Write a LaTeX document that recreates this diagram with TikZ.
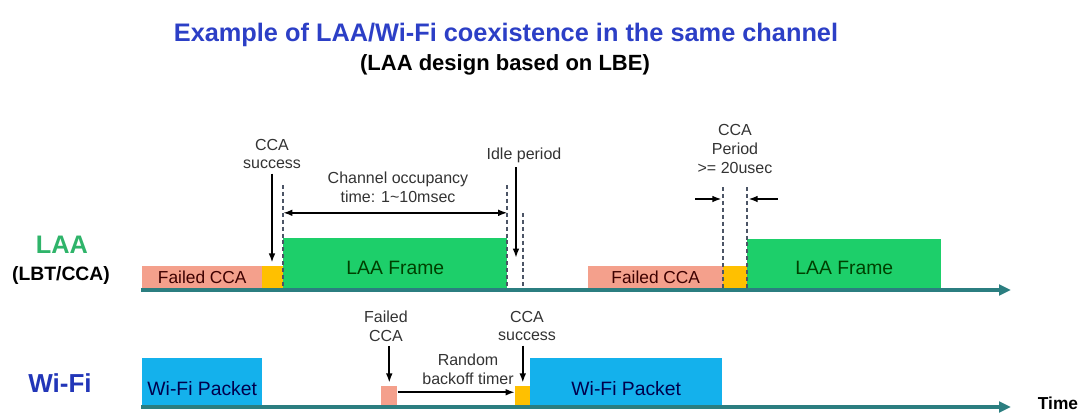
\documentclass[tikz,border=0pt]{standalone}
\usepackage{fontspec}
\setmainfont{Liberation Sans}
\usetikzlibrary{arrows.meta}
\definecolor{salmon}{HTML}{F4A08C}
\definecolor{amber}{HTML}{FFC000}
\definecolor{frameg}{HTML}{1DCF6A}
\definecolor{pktblue}{HTML}{14B1EC}
\definecolor{axisteal}{HTML}{2B7E80}
\definecolor{titleblue}{HTML}{2C3FC6}
\definecolor{laagreen}{HTML}{2FB46A}
\definecolor{wifiblue}{HTML}{2236B8}
\definecolor{guidegray}{HTML}{4C5566}

\tikzset{
  slot/.style={inner sep=0pt, anchor=south west},
  note/.style={align=center, font=\fontsize{12}{14}\selectfont, text=black!80},
  ptr/.style={-{Latex[length=7pt,width=5pt]}, line width=1.5pt},
  guide/.style={guidegray, line width=0.9pt, dash pattern=on 3pt off 2.2pt},
  tline/.style={axisteal, line width=2.4pt, -{Triangle[length=9pt,width=8pt]}},
}

\begin{document}
\begin{tikzpicture}[x=0.75pt, y=-0.75pt]
    \useasboundingbox (0,0) rectangle (1081,415);

    % Title
    \node[anchor=base, font=\bfseries\fontsize{19}{22}\selectfont, text=titleblue] (title) at (506,41) {Example of LAA/Wi-Fi coexistence in the same channel};
    \node[anchor=base, font=\bfseries\fontsize{16.5}{20}\selectfont] (subtitle) at (505,70) {(LAA design based on LBE)};

    % LAA
    \node[font=\bfseries\fontsize{19}{22}\selectfont, text=laagreen] (laa) at (62,245) {LAA};
    \node[font=\bfseries\fontsize{14.5}{17}\selectfont] (lbt) at (61,275) {(LBT/CCA)};

    \node[slot, fill=salmon, minimum width=90pt, minimum height=18pt] (fail1) at (142,290) {};
    \node[slot, fill=amber, minimum width=15.75pt, minimum height=18pt] (cca1) at (262,290) {};
    \node[slot, fill=frameg, minimum width=168pt, minimum height=39pt] (frame1) at (283,290) {};
    \node[slot, fill=salmon, minimum width=101.25pt, minimum height=18pt] (fail2) at (588,290) {};
    \node[slot, fill=amber, minimum width=18pt, minimum height=18pt] (cca2) at (723,290) {};
    \node[slot, fill=frameg, minimum width=145.5pt, minimum height=38.25pt] (frame2) at (747,290) {};

    \node[font=\fontsize{13}{15}\selectfont, text=black!60!red!60!black] (fail1txt) at (fail1.center) {Failed CCA};
    \node[font=\fontsize{13}{15}\selectfont, text=black!60!red!60!black] (fail2txt) at (fail2.center) {Failed CCA};
    \node[font=\fontsize{14.5}{17}\selectfont, text=black!75!green] (frame1txt) at ([yshift=-3pt]frame1.center) {LAA Frame};
    \node[font=\fontsize{14.5}{17}\selectfont, text=black!75!green] (frame2txt) at ([yshift=-3pt]frame2.center) {LAA Frame};

    % CCA success and channel occupancy
    \node[note] (laaok) at (272,154) {CCA\\success};
    \draw[ptr] (laaok.south) -- ([yshift=2pt]laaok.south |- cca1.north);

    \coordinate (occl) at (283,185);
    \coordinate (occr) at (507,185);
    \draw[guide] (occl) -- (occl |- frame1.south);
    \draw[guide] (occr) -- (occr |- frame1.south);
    \draw[{Latex[length=7pt,width=5pt]}-{Latex[length=7pt,width=5pt]}, line width=1.5pt]
        ([yshift=18.5pt]frame1.north west) -- ([yshift=18.5pt]frame1.north east);
    \node[note] (occ) at (398,187) {Channel occupancy\\time: 1\textasciitilde10msec};

    % idle period
    \node[note] (idle) at (524,155) {Idle period};
    \coordinate (idletip) at (516,258);
    \draw[ptr] (idle.south -| idletip) -- (idletip);
    \coordinate (idlel) at (523,213);
    \draw[guide] (idlel) -- (idlel |- frame1.south);

    % CCA period
    \node[note] (ccap) at (735,149) {CCA\\Period\\>= 20usec};
    \coordinate (cpl) at (723,187);
    \coordinate (cpr) at (747,187);
    \draw[guide] (cpl) -- (cpl |- cca2.south);
    \draw[guide] (cpr) -- (cpr |- cca2.south);
    \draw[ptr] ([xshift=-21pt,yshift=-9pt]cpl) -- ([xshift=-1pt,yshift=-9pt]cpl);
    \draw[ptr] ([xshift=23pt,yshift=-9pt]cpr) -- ([xshift=1pt,yshift=-9pt]cpr);

    \coordinate (laa0) at (141,290);
    \coordinate (laa1) at (1011,290);
    \draw[tline] (laa0) -- (laa1);

    % Wi-Fi
    \node[font=\bfseries\fontsize{19.5}{22}\selectfont, text=wifiblue] (wifi) at (60,383) {Wi-Fi};

    \node[slot, fill=pktblue, minimum width=90pt, minimum height=36.75pt] (wpk1) at (142,407) {};
    \node[slot, fill=salmon, minimum width=12pt, minimum height=15.75pt] (wfail) at (381,407) {};
    \node[slot, fill=amber, minimum width=11.25pt, minimum height=15.75pt] (wok) at (515,407) {};
    \node[slot, fill=pktblue, minimum width=144pt, minimum height=36.75pt] (wpk2) at (530,407) {};

    \node[font=\fontsize{14.5}{17}\selectfont, text=black!70!blue] (wpk1txt) at ([yshift=-4.5pt]wpk1.center) {Wi-Fi Packet};
    \node[font=\fontsize{14.5}{17}\selectfont, text=black!70!blue] (wpk2txt) at ([yshift=-4.5pt]wpk2.center) {Wi-Fi Packet};

    \node[note] (wfl) at (386,326) {Failed\\CCA};
    \draw[ptr] (wfl.south -| wfail.north) -- ([yshift=2pt]wfail.north);
    \node[note] (wsl) at (527,326) {CCA\\success};
    \draw[ptr] (wsl.south -| wok.north) -- ([yshift=2pt]wok.north);
    \node[note] (wrt) at (468,369) {Random\\backoff timer};
    \draw[ptr] ([yshift=3pt]wfail.east) -- ([yshift=3pt]wok.west);

    \coordinate (wf0) at (141,407);
    \coordinate (wf1) at (1011,407);
    \draw[tline] (wf0) -- (wf1);
    \node[font=\bfseries\fontsize{13}{15}\selectfont] (time) at (1058,403) {Time};
\end{tikzpicture}
\end{document}
